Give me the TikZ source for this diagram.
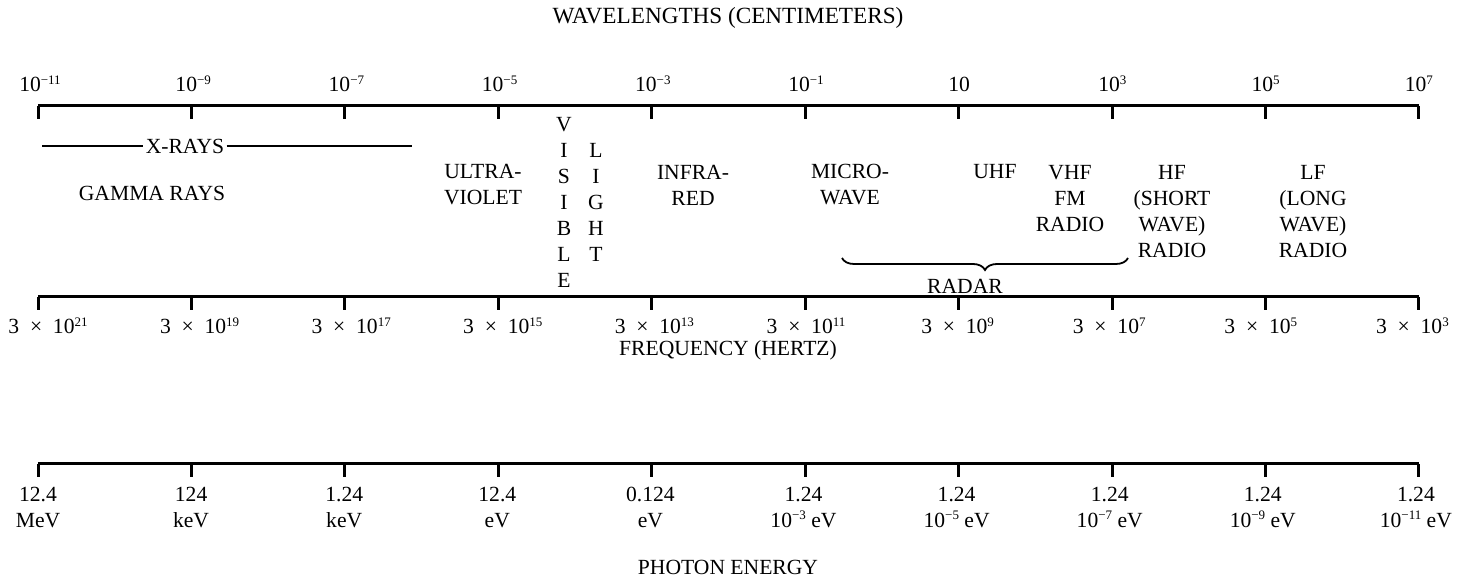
\documentclass[tikz,border=0pt]{standalone}
\usepackage{fontspec}
\setmainfont{Liberation Serif}
\usetikzlibrary{decorations.pathreplacing}

\tikzset{
  axis/.style={line width=1.5pt},
  lbl/.style={font=\fontsize{10.8}{13}\selectfont, align=center, inner sep=0pt},
  ttl/.style={lbl, font=\fontsize{11.6}{13}\selectfont},
  brace/.style={decorate, decoration={brace,amplitude=6pt}, line width=0.9pt},
}
\newcommand{\tenp}[1]{10\raisebox{0.75ex}{\fontsize{6.5}{6.5}\selectfont #1}}

\begin{document}
\begin{tikzpicture}[x=0.5pt,y=-0.5pt]
  \useasboundingbox (0,0) rectangle (1457,587);
  % the three scales
  \foreach \y in {106,297,464} {
    \draw[axis] (38,\y) -- (1419,\y);
    \foreach \i in {0,...,9}
      \draw[axis] ({38+153.44*\i},\y) -- ++(0,13);
  }
  % wavelengths
  \node[ttl] (wltitle) at (728,18) {WAVELENGTHS (CENTIMETERS)};
  \foreach \t [count=\i from 0] in {\tenp{\textminus11},\tenp{\textminus9},\tenp{\textminus7},
      \tenp{\textminus5},\tenp{\textminus3},\tenp{\textminus1},10,\tenp{3},\tenp{5},\tenp{7}}
    \node[lbl] (wl\i) at ({40+153.2*\i},84) {\t};
  % frequencies
  \foreach \e [count=\i from 0] in {21,19,17,15,13,11,9,7,5,3}
    \node[lbl] (fq\i) at ({48+151.6*\i},326) {3\enspace\texttimes\enspace\tenp{\e}};
  \node[lbl] (fqtitle) at (728,350) {FREQUENCY (HERTZ)};
  % photon energies
  \foreach \t [count=\i from 0] in {12.4\\MeV,124\\keV,1.24\\keV,12.4\\eV,0.124\\eV,
      1.24\\\tenp{\textminus3} eV,1.24\\\tenp{\textminus5} eV,1.24\\\tenp{\textminus7} eV,
      1.24\\\tenp{\textminus9} eV,1.24\\\tenp{\textminus11} eV}
    \node[lbl] (en\i) at ({38+153.1*\i},509) {\strut\t\strut};
  \node[lbl] (entitle) at (728,567) {PHOTON ENERGY};
  % bands
  \node[lbl,fill=white,inner xsep=1pt] (xrays) at (185,146) {X-RAYS};
  \coordinate (xr-l) at (42,146);
  \coordinate (xr-r) at (412,146);
  \draw[line width=1pt] (xr-l) -- (xrays) -- (xr-r);
  \node[lbl] (gamma) at (152,193) {GAMMA RAYS};
  \node[lbl] (uv) at (483,185) {ULTRA-\\VIOLET};
  \node[lbl] (visible) at (564,202) {V\\I\\S\\I\\B\\L\\E};
  \node[lbl] (light) at (596,202) {L\\I\\G\\H\\T};
  \node[lbl] (ir) at (693,185) {INFRA-\\RED};
  \node[lbl] (micro) at (850,185) {MICRO-\\WAVE};
  \node[lbl] (uhf) at (995,172) {UHF};
  \node[lbl] (vhf) at (1070,198.5) {VHF\\FM\\RADIO};
  \node[lbl] (hf) at (1172,211.5) {HF\\(SHORT\\WAVE)\\RADIO};
  \node[lbl] (lf) at (1313,211.5) {LF\\(LONG\\WAVE)\\RADIO};
  % radar brace
  \coordinate (radar-r) at (1128,258);
  \coordinate (radar-l) at (842,258);
  \draw[brace] (radar-r) -- (radar-l);
  \node[lbl] (radar) at (965,286) {RADAR};
\end{tikzpicture}
\end{document}
